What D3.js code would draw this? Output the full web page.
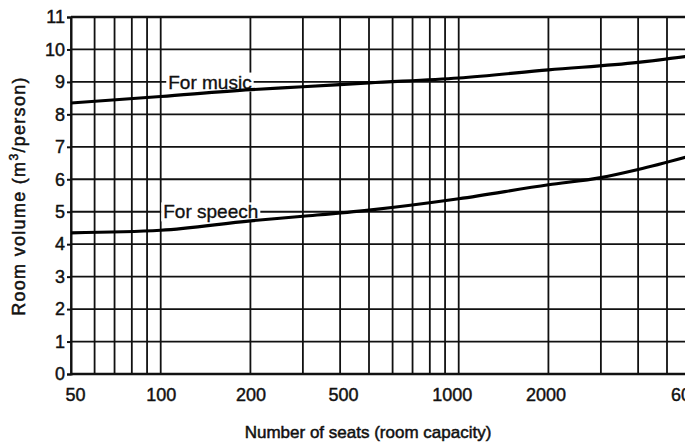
<!DOCTYPE html>
<html>
<head>
<meta charset="utf-8">
<script src="https://cdn.jsdelivr.net/npm/d3@7"></script>
<style>
  body { margin: 0; background: #fff; }
  svg { display: block; font-family: "Liberation Sans", Arial, sans-serif; }
  .grid line { stroke: #111; stroke-width: 1.8; }
  .axis text { font-size: 18px; fill: #111; stroke: #111; stroke-width: 0.45; }
  .axis path, .axis line { stroke: #111; stroke-width: 2; }
  .curve { fill: none; stroke: #000; stroke-width: 3.2; }
  .note { font-size: 19px; fill: #111; stroke: #111; stroke-width: 0.35; }
  .title { font-size: 17px; fill: #111; stroke: #111; stroke-width: 0.5; }
</style>
</head>
<body>
<script>
// values
var xGridValues = [50, 60, 70, 80, 90, 100, 200, 300, 400, 500, 600, 700, 800, 900,
  1000, 2000, 3000, 4000, 5000, 6000];
var xTickLabels = [50, 100, 200, 500, 1000, 2000, 6000];
var yTickLabels = [0, 1, 2, 3, 4, 5, 6, 7, 8, 9, 10, 11];

var musicSeats = [50, 100, 200, 300, 500, 1000, 2000, 4000, 6000];
var musicVolume = [8.35, 8.55, 8.76, 8.85, 8.97, 9.12, 9.37, 9.6, 9.8];
var speechSeats = [50, 100, 200, 300, 500, 1000, 2000, 3000, 4000, 6000];
var speechVolume = [4.35, 4.43, 4.72, 4.86, 5.05, 5.4, 5.83, 6.05, 6.3, 6.72];

(function() {
  'use strict';

  var width = 685, height = 447;
  var marginLeft = 71, marginTop = 17, plotBottom = 374;
  var decade = 298;

  var x = d3.scaleLog().domain([50, 6000])
    .range([marginLeft, marginLeft + decade * Math.log10(6000 / 50)]);
  var y = d3.scaleLinear().domain([0, 11]).range([plotBottom, marginTop]);

  var svg = d3.select('body').append('svg').attr('width', width).attr('height', height);

  // grid
  var grid = svg.append('g').attr('class', 'grid');
  grid.selectAll('.v').data(xGridValues).enter().append('line')
    .attr('x1', function(d) { return x(d); }).attr('x2', function(d) { return x(d); })
    .attr('y1', y(11)).attr('y2', y(0));
  grid.selectAll('.h').data(yTickLabels).enter().append('line')
    .attr('x1', x(50)).attr('x2', x(6000))
    .attr('y1', function(d) { return y(d); }).attr('y2', function(d) { return y(d); })
    .style('stroke-width', function(d) { return d === 0 || d === 11 ? 2.6 : 1.8; });

  // axes -- the printed labels sit a little off their lines
  var labelShift = {50: 4, 500: -26, 1000: -7, 2000: -3};
  var xAxis = d3.axisBottom(x).tickValues(xTickLabels).tickSize(0).tickPadding(14)
    .tickFormat(d3.format('d'));
  svg.append('g').attr('class', 'axis').attr('transform', 'translate(0,' + plotBottom + ')')
    .call(xAxis).call(function(g) { g.select('.domain').remove(); })
    .selectAll('text').attr('dx', function(d) { return labelShift[d] || 0; });

  var yAxis = d3.axisLeft(y).tickValues(yTickLabels).tickSize(4).tickPadding(2);
  svg.append('g').attr('class', 'axis').attr('transform', 'translate(' + marginLeft + ',0)')
    .call(yAxis).call(function(g) { g.select('.domain').attr('stroke-width', 2.6); });

  // curve labels knock out the grid behind them
  function note(text, seats, vol) {
    var g = svg.append('g');
    var bg = g.append('rect').attr('fill', '#fff');
    var t = g.append('text').attr('class', 'note')
      .attr('x', x(seats)).attr('y', y(vol)).attr('dy', '0.35em').text(text);
    var b = t.node().getBBox();
    bg.attr('x', b.x - 2).attr('y', b.y + 1).attr('width', b.width + 4).attr('height', b.height - 2);
  }
  note('For music', 106, 9);
  note('For speech', 102, 5);

  // curves
  var line = d3.line().curve(d3.curveMonotoneX)
    .x(function(d) { return x(d[0]); }).y(function(d) { return y(d[1]); });

  svg.append('path').attr('class', 'curve')
    .attr('d', line(d3.zip(musicSeats, musicVolume)));
  svg.append('path').attr('class', 'curve')
    .attr('d', line(d3.zip(speechSeats, speechVolume)));

  // axis titles
  svg.append('text').attr('class', 'title')
    .attr('x', 368).attr('y', 438).attr('text-anchor', 'middle')
    .text('Number of seats (room capacity)');

  var yt = svg.append('text').attr('class', 'title')
    .attr('transform', 'translate(25,196) rotate(-90)').attr('text-anchor', 'middle')
    .style('font-size', '18px').style('letter-spacing', '1.3px');
  yt.append('tspan').text('Room volume (m');
  yt.append('tspan').attr('dy', -7).style('font-size', '12px').text('3');
  yt.append('tspan').attr('dy', 7).text('/person)');
})();
</script>
</body>
</html>
